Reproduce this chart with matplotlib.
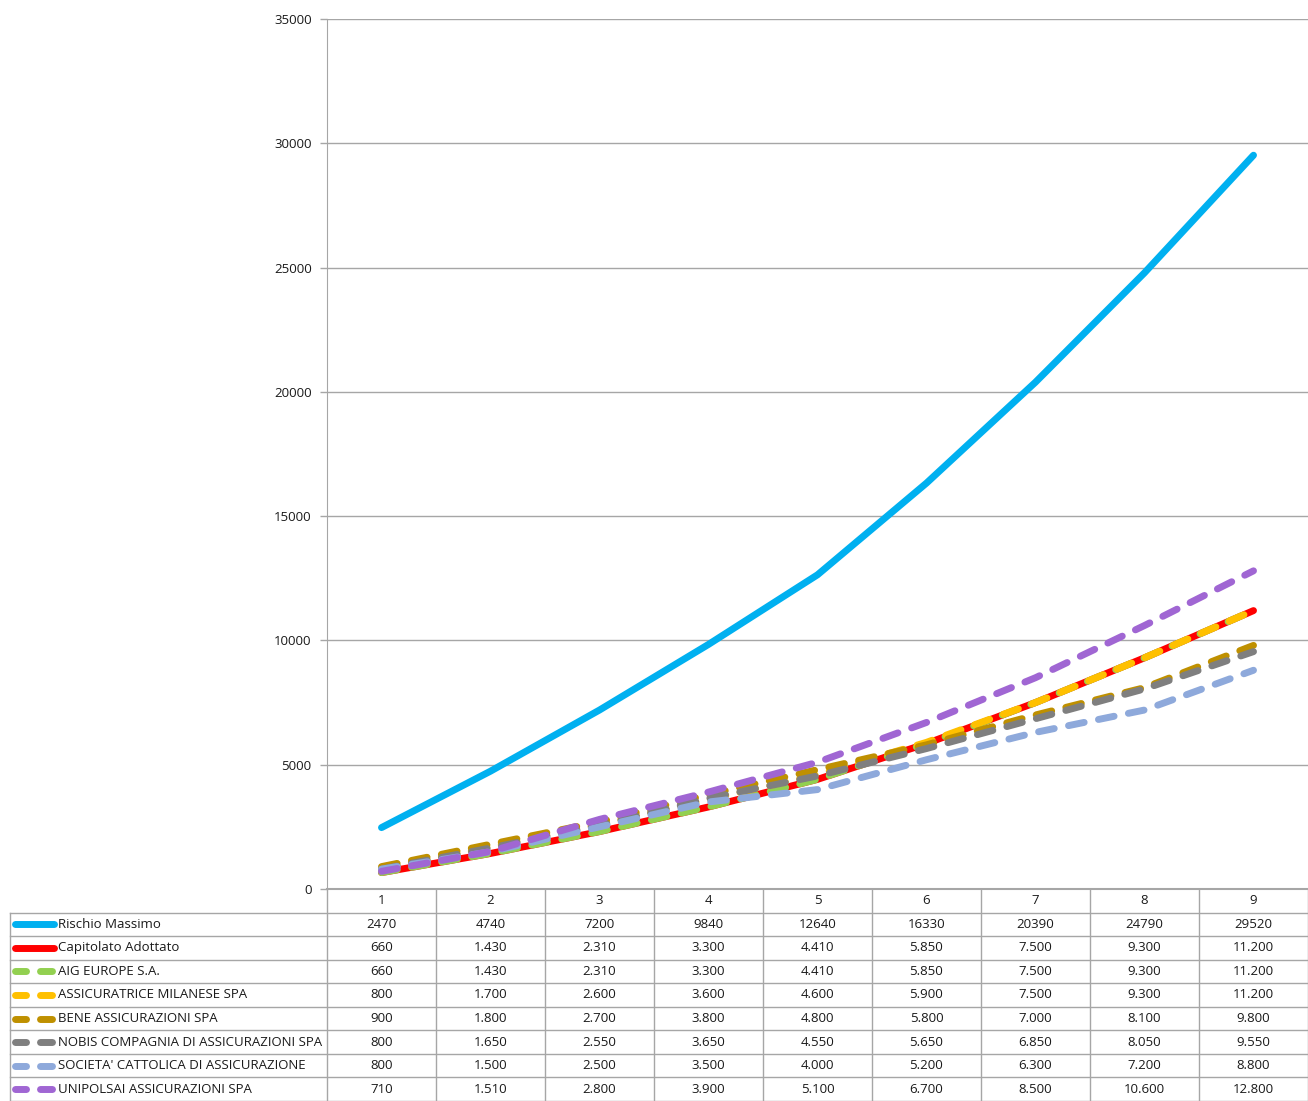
import numpy as np
import matplotlib
matplotlib.use("Agg")
import matplotlib.pyplot as plt
from matplotlib.lines import Line2D

plt.rcParams['font.family'] = ['Open Sans', 'DejaVu Sans']

categorie = [1, 2, 3, 4, 5, 6, 7, 8, 9]

serie = [
    "Rischio Massimo",
    "Capitolato Adottato",
    "AIG EUROPE S.A.",
    "ASSICURATRICE MILANESE SPA",
    "BENE ASSICURAZIONI SPA",
    "NOBIS COMPAGNIA DI ASSICURAZIONI SPA",
    "SOCIETA' CATTOLICA DI ASSICURAZIONE",
    "UNIPOLSAI ASSICURAZIONI SPA",
]

rischio_massimo = [2470, 4740, 7200, 9840, 12640, 16330, 20390, 24790, 29520]
capitolato      = [660, 1430, 2310, 3300, 4410, 5850, 7500, 9300, 11200]
aig             = [660, 1430, 2310, 3300, 4410, 5850, 7500, 9300, 11200]
milanese        = [800, 1700, 2600, 3600, 4600, 5900, 7500, 9300, 11200]
bene            = [900, 1800, 2700, 3800, 4800, 5800, 7000, 8100, 9800]
nobis           = [800, 1650, 2550, 3650, 4550, 5650, 6850, 8050, 9550]
cattolica       = [800, 1500, 2500, 3500, 4000, 5200, 6300, 7200, 8800]
unipolsai       = [710, 1510, 2800, 3900, 5100, 6700, 8500, 10600, 12800]

valori = [rischio_massimo, capitolato, aig, milanese, bene, nobis, cattolica, unipolsai]
colori = ["#00B0F0", "#FF0000", "#92D050", "#FFC000", "#BF9000", "#7F7F7F", "#8EA9DB", "#A066D3"]
tratteggio = [False, False, True, True, True, True, True, True]

W, H = 1308, 1101
fig = plt.figure(figsize=(W / 100, H / 100), dpi=100)

# layout in pixel
x_left, x_right = 327, 1308
y_top, y_bot = 19, 889
leg_left = 10
row_h = (H - y_bot) / 9.0
gray = "#A6A6A6"
testo_col = "#1A1A1A"

ax = fig.add_axes([x_left / W, 1 - y_bot / H, (x_right - x_left) / W, (y_bot - y_top) / H])
ax.set_xlim(0.5, 9.5)
ax.set_ylim(0, 35000)
ax.set_yticks(np.arange(0, 35001, 5000))
ax.set_xticks([])
ax.grid(axis='y', color=gray, lw=1.0)
ax.set_axisbelow(True)
for s in ['top', 'right', 'bottom']:
    ax.spines[s].set_visible(False)
ax.spines['left'].set_color(gray)
ax.tick_params(axis='y', colors=gray, length=5, width=1, labelsize=9.5, labelcolor=testo_col, pad=6)

lw = 5
for i, (nome, v) in enumerate(zip(serie, valori)):
    if tratteggio[i]:
        ax.plot(categorie, v, color=colori[i], lw=lw, linestyle=(0, (2.3, 2.1)),
                dash_capstyle='round', solid_capstyle='round', zorder=3 + i)
    else:
        ax.plot(categorie, v, color=colori[i], lw=lw, solid_capstyle='round',
                solid_joinstyle='round', zorder=3 + i)

# tabella dati
tax = fig.add_axes([0, 0, 1, 1])
tax.set_xlim(0, W)
tax.set_ylim(H, 0)
tax.axis('off')

col_w = (x_right - x_left) / 9.0


def fmt(n):
    return f"{n:,}".replace(",", ".")


tax.plot([x_left, W], [y_bot, y_bot], color=gray, lw=1.5)
for r in range(1, 10):
    y = y_bot + r * row_h
    tax.plot([leg_left, W], [y, y], color=gray, lw=1.0)
tax.plot([leg_left, leg_left], [y_bot + row_h, H], color=gray, lw=1.0)
for c in range(10):
    x = x_left + c * col_w
    tax.plot([x, x], [y_bot, H], color=gray, lw=1.0)

for c, cat in enumerate(categorie):
    tax.text(x_left + (c + 0.5) * col_w, y_bot + 0.5 * row_h, str(cat),
             ha='center', va='center', fontsize=9.5, color=testo_col)

for r, (nome, v) in enumerate(zip(serie, valori)):
    yc = y_bot + (r + 1.5) * row_h
    if tratteggio[r]:
        tax.add_line(Line2D([15, 26], [yc, yc], color=colori[r], lw=lw, solid_capstyle='round'))
        tax.add_line(Line2D([40, 52], [yc, yc], color=colori[r], lw=lw, solid_capstyle='round'))
    else:
        tax.add_line(Line2D([15, 54], [yc, yc], color=colori[r], lw=lw, solid_capstyle='round'))
    tax.text(58, yc, nome, ha='left', va='center', fontsize=9.5, color=testo_col)
    for c, n in enumerate(v):
        testo = str(n) if r == 0 else fmt(n)
        tax.text(x_left + (c + 0.5) * col_w, yc, testo, ha='center', va='center',
                 fontsize=9.5, color=testo_col)

fig.savefig("out.png", dpi=100)
